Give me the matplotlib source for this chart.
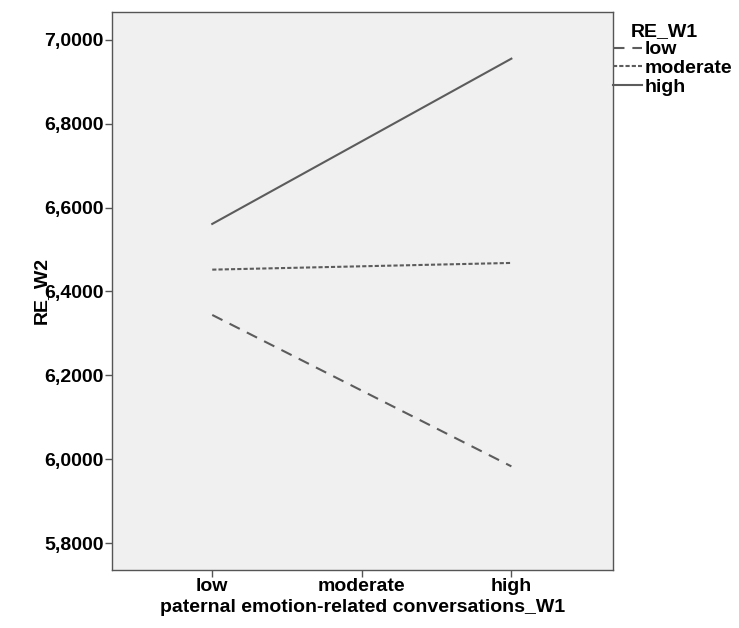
import matplotlib
matplotlib.use("Agg")
import matplotlib.pyplot as plt
from matplotlib.ticker import FuncFormatter

plt.rcParams["font.family"] = ["Liberation Sans", "DejaVu Sans"]
plt.rcParams["font.weight"] = "bold"

# data
categories = ["low", "moderate", "high"]
x_pos = [0, 1, 2]
line_x = [0, 2]  # lines only run from "low" to "high"
groups = ["low", "moderate", "high"]
values = {
    "low": [6.344, 5.983],
    "moderate": [6.452, 6.468],
    "high": [6.561, 6.955],
}
styles = {
    "low": (0, (5.5, 3.8)),
    "moderate": (0, (2, 1)),
    "high": "-",
}
yticks = [5.8, 6.0, 6.2, 6.4, 6.6, 6.8, 7.0]

fig = plt.figure(figsize=(7.39, 6.28), dpi=100)
ax = fig.add_axes([0.1516, 0.0924, 0.678, 0.889])
ax.set_facecolor("#f0f0f0")

for g in groups:
    ax.plot(line_x, values[g], color="#5c5c5c", lw=1.5, linestyle=styles[g], label=g)

ax.set_xlim(-0.67, 2.68)
ax.set_ylim(5.736, 7.067)
ax.set_xticks(x_pos)
ax.set_xticklabels(categories)
ax.set_yticks(yticks)
ax.yaxis.set_major_formatter(FuncFormatter(lambda v, p: f"{v:.4f}".replace(".", ",")))

for s in ax.spines.values():
    s.set_color("#555555")
    s.set_linewidth(1.0)
ax.tick_params(direction="out", length=5, width=1, color="#555555", labelsize=14, pad=1)
for lbl in ax.get_xticklabels() + ax.get_yticklabels():
    lbl.set_fontweight("bold")

ax.set_ylabel("RE_W2", fontsize=14, fontweight="bold", labelpad=-4)
ax.set_xlabel("paternal emotion-related conversations_W1", fontsize=14, fontweight="bold", labelpad=3)

leg = ax.legend(title="RE_W1", loc="upper left", bbox_to_anchor=(1.0, 0.98), frameon=False,
                handlelength=1.5, handletextpad=0.1, borderaxespad=0.0, borderpad=0.0,
                labelspacing=0.05, fontsize=14, title_fontsize=14, alignment="center")
leg.get_title().set_fontweight("bold")
leg.get_title().set_position((-8, 0))
for t in leg.get_texts():
    t.set_fontweight("bold")

fig.savefig("out.png", dpi=100)
